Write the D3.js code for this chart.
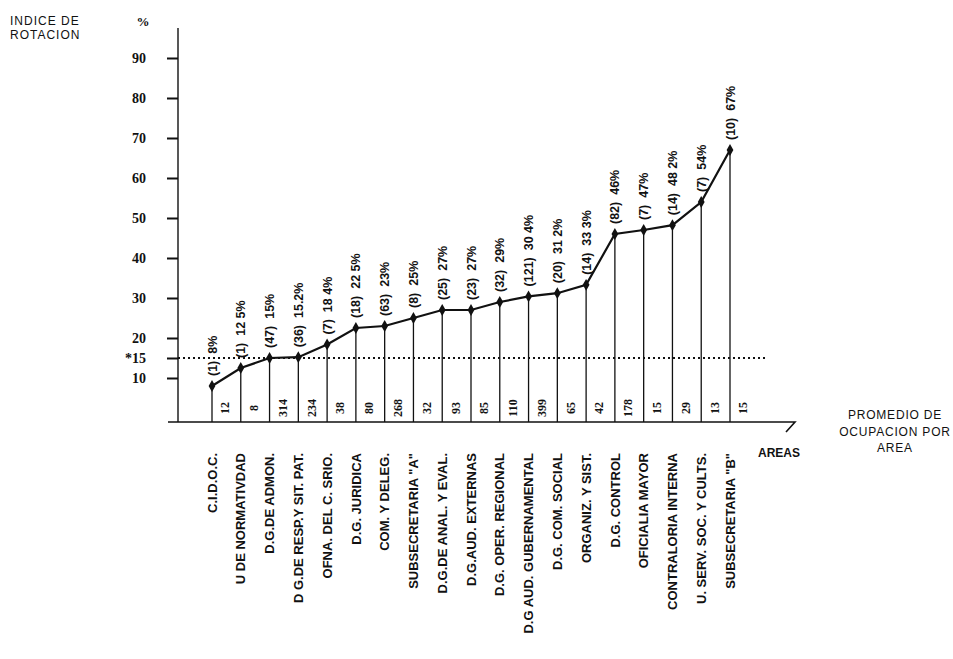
<!DOCTYPE html>
<html>
<head>
<meta charset="utf-8">
<script src="https://cdn.jsdelivr.net/npm/d3@7"></script>
<style>
  html, body { margin: 0; padding: 0; background: #fff; }
  svg { display: block; }
  text { fill: #111; }
</style>
</head>
<body>
<svg id="chart" width="953" height="659"></svg>
<script>
// ---- data ----
const categories = ["C.I.D.O.C.", "U DE NORMATIVDAD", "D.G.DE ADMON.", "D G.DE RESP.Y SIT. PAT.",
  "OFNA. DEL C. SRIO.", "D.G. JURIDICA", "COM. Y DELEG.", "SUBSECRETARIA \"A\"",
  "D.G.DE ANAL. Y EVAL.", "D.G.AUD. EXTERNAS", "D.G. OPER. REGIONAL", "D.G AUD. GUBERNAMENTAL",
  "D.G. COM. SOCIAL", "ORGANIZ. Y SIST.", "D.G. CONTROL", "OFICIALIA MAYOR",
  "CONTRALORIA INTERNA", "U. SERV. SOC. Y CULTS.", "SUBSECRETARIA \"B\""];
const rotation = [8, 12.5, 15, 15.2, 18.4, 22.5, 23, 25, 27, 27, 29, 30.4, 31.2, 33.3, 46, 47, 48.2, 54, 67];
const counts = [1, 1, 47, 36, 7, 18, 63, 8, 25, 23, 32, 121, 20, 14, 82, 7, 14, 7, 10];
const pctLabels = ["8%", "12 5%", "15%", "15.2%", "18 4%", "22 5%", "23%", "25%", "27%", "27%",
  "29%", "30 4%", "31 2%", "33 3%", "46%", "47%", "48 2%", "54%", "67%"];
const occupancy = [12, 8, 314, 234, 38, 80, 268, 32, 93, 85, 110, 399, 65, 42, 178, 15, 29, 13, 15];
const yTicks = [10, 15, 20, 30, 40, 50, 60, 70, 80, 90];
const yTickLabels = ["10", "*15", "20", "30", "40", "50", "60", "70", "80", "90"];
const referenceLevel = 15;

// ---- layout ----
const svg = d3.select("#chart");
const SANS = "'Liberation Sans', Arial, sans-serif";
const SERIF = "'Liberation Serif', 'Times New Roman', serif";
const axisX = 178, baseY = 422;

const x = d3.scalePoint().domain(categories).range([212, 730]);
const y = d3.scaleLinear().domain([0, 100]).range([418, 18]);

svg.append("rect").attr("width", 953).attr("height", 659).attr("fill", "#fff");

// y axis
const yAxis = svg.append("g")
  .attr("transform", `translate(${axisX},0)`)
  .call(d3.axisLeft(y).tickValues(yTicks).tickFormat((d, i) => yTickLabels[i]).tickSize(11).tickPadding(21));
yAxis.select(".domain").remove();
yAxis.selectAll(".tick line").attr("stroke", "#111").attr("stroke-width", 2);
yAxis.selectAll(".tick text")
  .attr("font-family", SERIF).attr("font-weight", "bold").attr("font-size", 14).attr("fill", "#111");

svg.append("line").attr("x1", axisX).attr("x2", axisX).attr("y1", 28).attr("y2", baseY)
  .attr("stroke", "#111").attr("stroke-width", 1.4);

// baseline (x axis) with arrow end
svg.append("path")
  .attr("d", `M168,${baseY}H795L786,${baseY + 10}`)
  .attr("fill", "none").attr("stroke", "#111").attr("stroke-width", 1.6);

// reference dotted line at 15
svg.append("line")
  .attr("x1", axisX).attr("x2", 765)
  .attr("y1", y(referenceLevel)).attr("y2", y(referenceLevel))
  .attr("stroke", "#111").attr("stroke-width", 2).attr("stroke-dasharray", "2,3");

const data = categories.map((c, i) => ({ c, v: rotation[i], n: counts[i], p: pctLabels[i], o: occupancy[i] }));

// drop lines
svg.append("g").selectAll("line").data(data).join("line")
  .attr("x1", d => x(d.c)).attr("x2", d => x(d.c))
  .attr("y1", d => y(d.v)).attr("y2", baseY)
  .attr("stroke", "#111").attr("stroke-width", 1.3);

// main line
svg.append("path").datum(data)
  .attr("d", d3.line().x(d => x(d.c)).y(d => y(d.v)))
  .attr("fill", "none").attr("stroke", "#111").attr("stroke-width", 2.2);

// markers
svg.append("g").selectAll("path").data(data).join("path")
  .attr("transform", d => `translate(${x(d.c)},${y(d.v)})`)
  .attr("d", d3.symbol(d3.symbolDiamond, 40))
  .attr("fill", "#111");

// point labels
svg.append("g").selectAll("text").data(data).join("text")
  .attr("transform", d => `translate(${x(d.c)},${y(d.v) - 10}) rotate(-90)`)
  .attr("dy", "0.36em")
  .attr("text-anchor", "start")
  .attr("font-family", SANS).attr("font-weight", "bold").attr("font-size", 12.5)
  .style("white-space", "pre")
  .text(d => `(${d.n})  ${d.p}`);

// occupancy numbers in cells
svg.append("g").selectAll("text").data(data).join("text")
  .attr("transform", d => `translate(${x(d.c) + 13},408) rotate(-90)`)
  .attr("dy", "0.36em")
  .attr("text-anchor", "middle")
  .attr("font-family", SERIF).attr("font-weight", "bold").attr("font-size", 12)
  .text(d => d.o);

// category labels
svg.append("g").selectAll("text").data(data).join("text")
  .attr("transform", d => `translate(${x(d.c)},453) rotate(-90)`)
  .attr("dy", "0.36em")
  .attr("text-anchor", "end")
  .attr("font-family", SANS).attr("font-weight", "bold").attr("font-size", 13)
  .text(d => d.c);

// titles
const t1 = svg.append("text").attr("font-family", SANS).attr("font-size", 12).attr("letter-spacing", 1);
t1.append("tspan").attr("x", 10).attr("y", 25).text("INDICE DE");
t1.append("tspan").attr("x", 10).attr("y", 39).text("ROTACION");

svg.append("text").attr("x", 143).attr("y", 26).attr("text-anchor", "middle")
  .attr("font-family", SERIF).attr("font-weight", "bold").attr("font-size", 13).text("%");

const t2 = svg.append("text").attr("font-family", SANS).attr("font-size", 12)
  .attr("letter-spacing", 0.8).attr("text-anchor", "middle");
t2.append("tspan").attr("x", 895).attr("y", 419).text("PROMEDIO DE");
t2.append("tspan").attr("x", 895).attr("y", 436).text("OCUPACION POR");
t2.append("tspan").attr("x", 895).attr("y", 452).text("AREA");

svg.append("text").attr("x", 779).attr("y", 457).attr("text-anchor", "middle")
  .attr("font-family", SANS).attr("font-weight", "bold").attr("font-size", 12).text("AREAS");
</script>
</body>
</html>
